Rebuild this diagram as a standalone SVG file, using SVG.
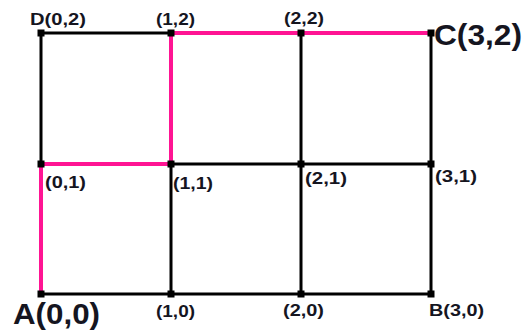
<svg xmlns="http://www.w3.org/2000/svg" width="525" height="334" viewBox="0 0 525 334">
<style>
.g{stroke:#000;stroke-width:3;fill:none;stroke-linecap:square}
.p{stroke:#ff1493;stroke-width:4;fill:none;stroke-linejoin:miter}
.n{fill:#000}
.s{font-family:"Liberation Sans",Arial,sans-serif;font-weight:bold;font-size:16.5px;fill:#15151f}
.b{font-family:"Liberation Sans",Arial,sans-serif;font-weight:bold;font-size:30px;fill:#15151f}
</style>
<rect width="525" height="334" fill="#fff"/>
<g id="connectors">
<path class="g" d="M41,33H171M171,164H431M41,294H431M41,33V164M171,164V294M301,33V294M431,33V294"/>
<path class="p" d="M41,294V164H171V33H431"/>
</g>
<g id="A"><rect class="n" x="37.5" y="290.5" width="7" height="7"/><text class="b" x="13" y="324" textLength="87" lengthAdjust="spacingAndGlyphs">A(0,0)</text></g>
<g id="n10"><rect class="n" x="167.5" y="290.5" width="7" height="7"/><text class="s" x="156" y="317" textLength="39" lengthAdjust="spacingAndGlyphs">(1,0)</text></g>
<g id="n20"><rect class="n" x="297.5" y="290.5" width="7" height="7"/><text class="s" x="283" y="316" textLength="41" lengthAdjust="spacingAndGlyphs">(2,0)</text></g>
<g id="B"><rect class="n" x="427.5" y="290.5" width="7" height="7"/><text class="s" x="429" y="316" textLength="55" lengthAdjust="spacingAndGlyphs">B(3,0)</text></g>
<g id="n01"><rect class="n" x="37.5" y="160.5" width="7" height="7"/><text class="s" x="45" y="188" textLength="41" lengthAdjust="spacingAndGlyphs">(0,1)</text></g>
<g id="n11"><rect class="n" x="167.5" y="160.5" width="7" height="7"/><text class="s" x="173" y="189" textLength="40" lengthAdjust="spacingAndGlyphs">(1,1)</text></g>
<g id="n21"><rect class="n" x="297.5" y="160.5" width="7" height="7"/><text class="s" x="305" y="184" textLength="42" lengthAdjust="spacingAndGlyphs">(2,1)</text></g>
<g id="n31"><rect class="n" x="427.5" y="160.5" width="7" height="7"/><text class="s" x="435" y="182" textLength="42" lengthAdjust="spacingAndGlyphs">(3,1)</text></g>
<g id="D"><rect class="n" x="37.5" y="29.5" width="7" height="7"/><text class="s" x="30" y="25" textLength="56" lengthAdjust="spacingAndGlyphs">D(0,2)</text></g>
<g id="n12"><rect class="n" x="167.5" y="29.5" width="7" height="7"/><text class="s" x="156" y="25" textLength="39" lengthAdjust="spacingAndGlyphs">(1,2)</text></g>
<g id="n22"><rect class="n" x="297.5" y="29.5" width="7" height="7"/><text class="s" x="284" y="24" textLength="40" lengthAdjust="spacingAndGlyphs">(2,2)</text></g>
<g id="C"><rect class="n" x="427.5" y="29.5" width="7" height="7"/><text class="b" x="434" y="45" textLength="88" lengthAdjust="spacingAndGlyphs">C(3,2)</text></g>
</svg>
